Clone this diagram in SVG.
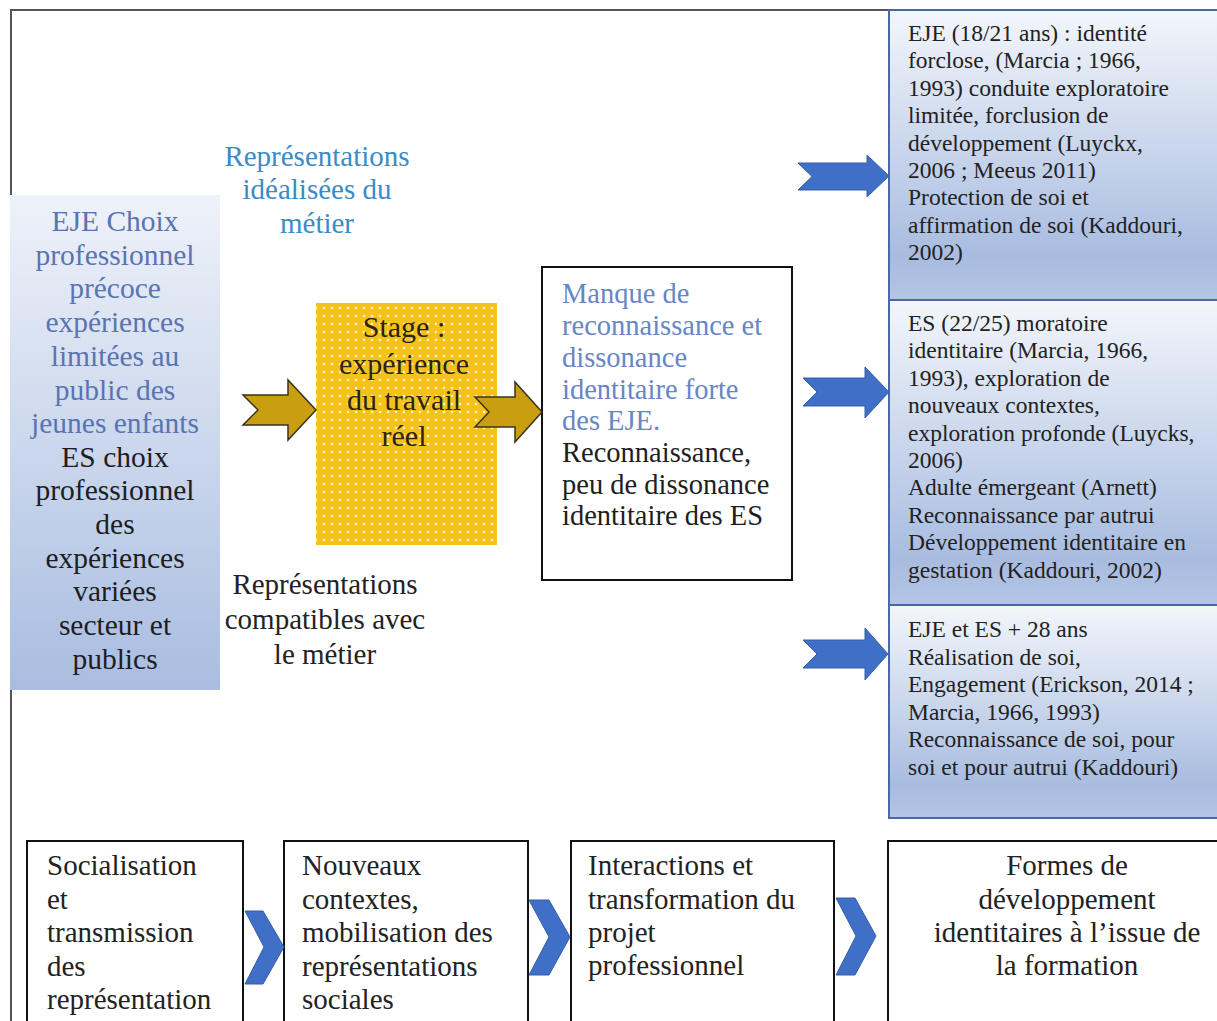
<svg xmlns="http://www.w3.org/2000/svg" width="1217" height="1021" viewBox="0 0 1217 1021">
<style>
text{font-family:"Liberation Serif","Times New Roman",serif;}
.lb{font-size:29.5px;text-anchor:middle;}
.blue1{fill:#5a74b2;}
.dark{fill:#1e1e1e;}
.top{font-size:29px;fill:#3a8bc6;text-anchor:middle;}
.stage{font-size:30px;fill:#2a2410;text-anchor:middle;}
.mid{font-size:28.5px;}
.blue2{fill:#6786c6;}
.rt{font-size:23.5px;fill:#222;}
.bt{font-size:29px;fill:#222;}
.frame{stroke:#555;stroke-width:2;fill:none;}
.box{fill:#fff;stroke:#111;stroke-width:2;}
.rbox{fill:url(#rg);stroke:#4a68a6;stroke-width:2;}
.garrow{fill:#c99e10;stroke:#3a3320;stroke-width:1.5;}
.barrow{fill:#3f6fc6;stroke:#365fa8;stroke-width:1;}
</style>
<defs>
<linearGradient id="lg" x1="0" y1="0" x2="0" y2="1">
<stop offset="0" stop-color="#eef2f9"/>
<stop offset="1" stop-color="#a9bde1"/>
</linearGradient>
<linearGradient id="rg" x1="0" y1="0" x2="0" y2="1">
<stop offset="0" stop-color="#f3f6fb"/>
<stop offset="0.85" stop-color="#a8bce0"/>
<stop offset="1" stop-color="#b4c5e5"/>
</linearGradient>
<pattern id="dots" width="8" height="8" patternUnits="userSpaceOnUse">
<rect width="8" height="8" fill="#f5c21c"/>
<circle cx="4" cy="4" r="1.3" fill="#fff3c0"/>
</pattern>
</defs>
<rect width="1217" height="1021" fill="#fff"/>
<g id="frame">
<path class="frame" d="M11,195 V10 H890"/>
<path class="frame" d="M11,690 V1021"/>
</g>
<g id="left-box">
<rect x="10" y="195" width="210" height="495" fill="url(#lg)"/>
<text class="lb blue1" x="115" y="231">EJE Choix</text>
<text class="lb blue1" x="115" y="265">professionnel</text>
<text class="lb blue1" x="115" y="298">précoce</text>
<text class="lb blue1" x="115" y="332">expériences</text>
<text class="lb blue1" x="115" y="366">limitées au</text>
<text class="lb blue1" x="115" y="400">public des</text>
<text class="lb blue1" x="115" y="433">jeunes enfants</text>
<text class="lb dark" x="115" y="467">ES choix</text>
<text class="lb dark" x="115" y="500">professionnel</text>
<text class="lb dark" x="115" y="534">des</text>
<text class="lb dark" x="115" y="568">expériences</text>
<text class="lb dark" x="115" y="601">variées</text>
<text class="lb dark" x="115" y="635">secteur et</text>
<text class="lb dark" x="115" y="669">publics</text>
</g>
<g id="label-idealisees">
<text class="top" x="317" y="166">Représentations</text>
<text class="top" x="317" y="199">idéalisées du</text>
<text class="top" x="317" y="233">métier</text>
</g>
<g id="stage-box">
<rect x="316" y="303" width="181" height="242" fill="url(#dots)"/>
<text class="stage" x="404" y="337">Stage :</text>
<text class="stage" x="404" y="374">expérience</text>
<text class="stage" x="404" y="410">du travail</text>
<text class="stage" x="404" y="446">réel</text>
</g>
<g id="label-compatibles">
<text class="bt" x="325" y="594" text-anchor="middle">Représentations</text>
<text class="bt" x="325" y="629" text-anchor="middle">compatibles avec</text>
<text class="bt" x="325" y="664" text-anchor="middle">le métier</text>
</g>
<g id="middle-box">
<rect class="box" x="542" y="267" width="250" height="313"/>
<text class="mid blue2" x="562" y="303">Manque de</text>
<text class="mid blue2" x="562" y="335">reconnaissance et</text>
<text class="mid blue2" x="562" y="367">dissonance</text>
<text class="mid blue2" x="562" y="399">identitaire forte</text>
<text class="mid blue2" x="562" y="430">des EJE.</text>
<text class="mid dark" x="562" y="462">Reconnaissance,</text>
<text class="mid dark" x="562" y="494">peu de dissonance</text>
<text class="mid dark" x="562" y="525">identitaire des ES</text>
</g>
<g id="right-box-1">
<rect class="rbox" x="889" y="10" width="340" height="290"/>
<text class="rt" x="908" y="41">EJE (18/21 ans) : identité</text>
<text class="rt" x="908" y="68.4">forclose, (Marcia ; 1966,</text>
<text class="rt" x="908" y="95.8">1993) conduite exploratoire</text>
<text class="rt" x="908" y="123.2">limitée, forclusion de</text>
<text class="rt" x="908" y="150.6">développement (Luyckx,</text>
<text class="rt" x="908" y="178">2006 ; Meeus 2011)</text>
<text class="rt" x="908" y="205.4">Protection de soi et</text>
<text class="rt" x="908" y="232.8">affirmation de soi (Kaddouri,</text>
<text class="rt" x="908" y="260.2">2002)</text>
</g>
<g id="right-box-2">
<rect class="rbox" x="889" y="300" width="340" height="305"/>
<text class="rt" x="908" y="331">ES (22/25) moratoire</text>
<text class="rt" x="908" y="358.4">identitaire (Marcia, 1966,</text>
<text class="rt" x="908" y="385.8">1993), exploration de</text>
<text class="rt" x="908" y="413.2">nouveaux contextes,</text>
<text class="rt" x="908" y="440.6">exploration profonde (Luycks,</text>
<text class="rt" x="908" y="468">2006)</text>
<text class="rt" x="908" y="495.4">Adulte émergeant (Arnett)</text>
<text class="rt" x="908" y="522.8">Reconnaissance par autrui</text>
<text class="rt" x="908" y="550.2">Développement identitaire en</text>
<text class="rt" x="908" y="577.6">gestation (Kaddouri, 2002)</text>
</g>
<g id="right-box-3">
<rect class="rbox" x="889" y="605" width="340" height="213"/>
<text class="rt" x="908" y="637">EJE et ES + 28 ans</text>
<text class="rt" x="908" y="664.5">Réalisation de soi,</text>
<text class="rt" x="908" y="692">Engagement (Erickson, 2014 ;</text>
<text class="rt" x="908" y="719.5">Marcia, 1966, 1993)</text>
<text class="rt" x="908" y="747">Reconnaissance de soi, pour</text>
<text class="rt" x="908" y="774.5">soi et pour autrui (Kaddouri)</text>
</g>
<g id="bottom-box-1">
<rect class="box" x="27" y="841" width="216" height="200"/>
<text class="bt" x="47" y="875">Socialisation</text>
<text class="bt" x="47" y="909">et</text>
<text class="bt" x="47" y="942">transmission</text>
<text class="bt" x="47" y="976">des</text>
<text class="bt" x="47" y="1009">représentation</text>
</g>
<g id="bottom-box-2">
<rect class="box" x="284" y="841" width="244" height="200"/>
<text class="bt" x="302" y="875">Nouveaux</text>
<text class="bt" x="302" y="909">contextes,</text>
<text class="bt" x="302" y="942">mobilisation des</text>
<text class="bt" x="302" y="976">représentations</text>
<text class="bt" x="302" y="1009">sociales</text>
</g>
<g id="bottom-box-3">
<rect class="box" x="571" y="841" width="263" height="200"/>
<text class="bt" x="588" y="875">Interactions et</text>
<text class="bt" x="588" y="909">transformation du</text>
<text class="bt" x="588" y="942">projet</text>
<text class="bt" x="588" y="975">professionnel</text>
</g>
<g id="bottom-box-4">
<rect class="box" x="888" y="841" width="345" height="200"/>
<text class="bt" x="1067" y="875" text-anchor="middle">Formes de</text>
<text class="bt" x="1067" y="909" text-anchor="middle">développement</text>
<text class="bt" x="1067" y="942" text-anchor="middle">identitaires à l’issue de</text>
<text class="bt" x="1067" y="975" text-anchor="middle">la formation</text>
</g>
<g id="connectors">
<polygon class="garrow" points="243,395 288,395 288,380 316,410 288,440 288,425 243,425 258,410"/>
<polygon class="garrow" points="475,397 515,397 515,382 542,412 515,442 515,427 475,427 489,412"/>
<polygon class="barrow" points="798,163 867,163 867,155 889,176 867,197 867,190 798,190 812,176.5"/>
<polygon class="barrow" points="803,378 865,378 865,367 889,392 865,418 865,406 803,406 817,392"/>
<polygon class="barrow" points="803,640 865,640 865,628 888,654 865,680 865,668 803,668 817,654"/>
<polygon class="barrow" points="245,911 263,911 284,947 263,984 245,984 264,947"/>
<polygon class="barrow" points="529,900 549,900 570,937 549,975 529,975 549,937"/>
<polygon class="barrow" points="836,898 855,898 876,936 855,975 836,975 856,936"/>
</g>
</svg>
